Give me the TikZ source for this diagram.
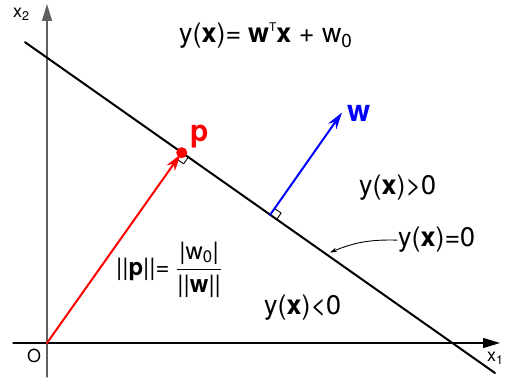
\documentclass[tikz,border=0pt]{standalone}
\usepackage{amsmath}
\usepackage{fontspec}
\setmainfont{TeX Gyre Heros}
\usetikzlibrary{arrows.meta,calc}
\definecolor{axisgray}{RGB}{95,95,95}
\tikzset{
  lbl/.style={inner sep=1bp, font=\fontsize{27}{31}\selectfont},
  axlbl/.style={inner sep=0pt, font=\fontsize{18}{21}\selectfont},
  rightang/.style={line width=.9bp}
}
\begin{document}
\begin{tikzpicture}[scale=.3528, line join=round, line cap=round, >={Stealth[length=17bp,width=10bp]}]
    \useasboundingbox (-4.7,-3.5) rectangle (46,34.3);
    \coordinate (O) at (0,0);
    \coordinate (p) at (13.47,19.03);
    \coordinate (wb) at (22.3,12.8);
    \coordinate (wt) at (29.5,23.05);
    \coordinate (la) at (-2.2,30.08);
    \coordinate (lb) at (44.8,-3.0);
    \coordinate (hit) at (28.3,9.05);
    % axes
    \draw[-{Triangle[length=17bp,width=10bp]}, line width=1.2bp] (-3.4,0)--(45.3,0);
    \draw[-{Triangle[length=17bp,width=10bp]}, line width=1.2bp, axisgray] (0,-3.4)--(0,33.9);
    \node[axlbl, anchor=base west] (x1) at (44.0,-1.9) {x\textsubscript{1}};
    \node[axlbl, anchor=base west] (x2) at (-3.4,32.5) {x\textsubscript{2}};
    \node[axlbl, anchor=base west] (o) at (-2.0,-2.0) {O};
    % decision boundary
    \draw[line width=2bp] (la)--(lb);
    \draw[rightang] ($(p)+(-35.2:0.8)$) -- ++(-125.2:0.8) -- ++(144.8:0.8);
    \draw[rightang] ($(wb)+(-35.2:0.8)$) -- ++(54.8:0.8) -- ++(144.8:0.8);
    % vectors
    \draw[->, red, line width=2bp, shorten >=2bp] (O)--(p);
    \fill[red] (p) circle (0.55);
    \draw[->, blue, line width=2bp] (wb)--(wt);
    \node[lbl, anchor=base west, red, font=\fontsize{30}{34}\selectfont\bfseries] (plbl) at (14.2,20.1) {p};
    \node[lbl, anchor=base west, blue, font=\fontsize{30}{34}\selectfont\bfseries] (wlbl) at (29.9,22.1) {w};
    % labels
    \node[lbl, anchor=base west] (eq) at (13.1,30.0) {y(\textbf{x})=\hspace{7bp}\textbf{w}\raisebox{11bp}{\fontsize{12}{12}\selectfont T}\textbf{x} + w\textsubscript{0}};
    \node[lbl, anchor=base west] (pos) at (31.1,14.8) {y(\textbf{x})>0};
    \node[lbl, anchor=base west] (zero) at (35.0,9.6) {y(\textbf{x})=0};
    \node[lbl, anchor=base west] (neg) at (21.6,2.8) {y(\textbf{x})<0};
    \node[lbl, anchor=base west, font=\fontsize{24}{28}\selectfont] (dist) at (6.8,6.7) {||\textbf{p}||= $\dfrac{\text{|w\textsubscript{0}|}}{\text{||\textbf{w}||}}$};
    \draw[-{Stealth[length=7bp,width=4.5bp]}, line width=.9bp] (zero.west) to[bend right=12] (hit);
\end{tikzpicture}
\end{document}
